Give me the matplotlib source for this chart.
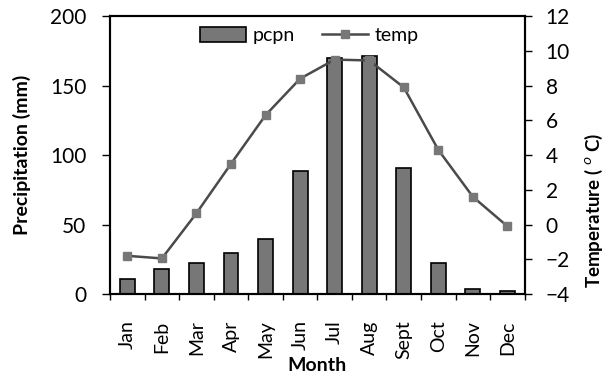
import matplotlib
matplotlib.use("Agg")
import matplotlib.pyplot as plt
import numpy as np

months = ["Jan", "Feb", "Mar", "Apr", "May", "Jun", "Jul", "Aug", "Sept", "Oct", "Nov", "Dec"]
pcpn = [10.5, 18, 22.5, 29.5, 39.5, 88.5, 170, 171, 91, 22.5, 3.5, 2]
temp = [-1.8, -1.95, 0.65, 3.5, 6.3, 8.4, 9.5, 9.45, 7.9, 4.3, 1.6, -0.1]
pcpn_ticks = [0, 50, 100, 150, 200]
temp_ticks = [-4, -2, 0, 2, 4, 6, 8, 10, 12]

plt.rcParams['font.family'] = ['Lato', 'DejaVu Sans']

fig = plt.figure(figsize=(6.08, 3.76), dpi=100)
ax = fig.add_axes([0.181, 0.218, 0.682, 0.739])
ax2 = ax.twinx()
x = np.arange(len(months))

bars = ax.bar(x, pcpn, width=0.43, color="#777777", edgecolor="black", linewidth=1.2,
              label="pcpn", zorder=2)
line, = ax2.plot(x, temp, color="#4a4a4a", linewidth=1.8, marker='s', markersize=6,
                 markerfacecolor="#777777", markeredgecolor="#777777", label="temp", zorder=3)

ax.set_xlim(-0.5, len(months) - 0.5)
ax.set_ylim(0, 200)
ax.set_yticks(pcpn_ticks)
ax2.set_ylim(-4, 12)
ax2.set_yticks(temp_ticks)

ax.set_xticks(x)
ax.set_xticklabels(months)
ax.set_xticks(np.arange(-0.5, len(months)), minor=True)

for s in ax.spines.values():
    s.set_linewidth(1.5)
for s in ax2.spines.values():
    s.set_linewidth(1.5)

ax2.legend([bars, line], ["pcpn", "temp"], loc='center', ncol=2, frameon=False,
           fontsize=14, bbox_to_anchor=(0.48, 0.93), handlelength=2.4, columnspacing=1.4,
           handletextpad=0.3, handleheight=0.8)

ax.set_ylabel("Precipitation (mm)", fontsize=14, fontweight='bold')
ax.yaxis.set_label_coords(-0.19, 0.5)
ax.set_xlabel("Month", fontsize=14, fontweight='bold')
ax.xaxis.set_label_coords(0.5, -0.225)
ax2.set_ylabel("Temperature ( $^{o}$ C)", fontsize=13.5, fontweight='bold')
ax2.yaxis.set_label_coords(1.14, 0.30)

ax.tick_params(axis='x', which='major', length=0, pad=19, labelsize=14, labelrotation=90)
ax.tick_params(axis='x', which='minor', length=4, width=1, direction='out')
ax.tick_params(axis='y', length=6, width=1, labelsize=15, direction='out', pad=11)
ax2.tick_params(axis='y', length=5, width=1, labelsize=15, direction='out', pad=10)

fig.savefig("out.png", dpi=100)
